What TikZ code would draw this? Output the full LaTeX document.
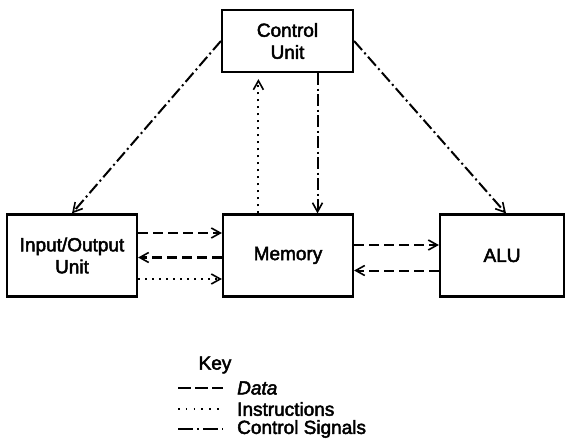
\documentclass[tikz,border=0pt]{standalone}
\usepackage{fontspec}
\setmainfont{Liberation Sans}
\newfontfamily\heavyfont[FakeBold=2.5]{Liberation Sans}
\usetikzlibrary{arrows.meta}
\begin{document}
\begin{tikzpicture}[x=1pt,y=-1pt,
  box/.style={draw, line width=2.2pt, inner sep=0pt, align=center, font=\heavyfont\fontsize{19}{22}\selectfont},
  conn/.style={line width=2pt, -{Straight Barb[length=9pt,width=10pt,line width=1.6pt]}},
  datal/.style={dash pattern=on 10pt off 5pt},
  instl/.style={dash pattern=on 2pt off 5pt},
  ctrll/.style={dash pattern=on 12pt off 3.5pt on 2pt off 3.5pt},
  keytext/.style={font=\heavyfont\fontsize{19}{22}\selectfont, anchor=west, inner sep=0pt},
  keyline/.style={line width=2pt}
]
\useasboundingbox (0,0) rectangle (565,441);
\node[box, minimum width=131pt, minimum height=62pt] (ctrl) at (287.5,41) {Control\\Unit};
\node[box, minimum width=130pt, minimum height=82pt] (io) at (72,255.5) {Input/Output\\Unit};
\node[box, minimum width=130pt, minimum height=82pt] (mem) at (288,255.5) {Memory};
\node[box, minimum width=124pt, minimum height=82pt] (alu) at (502,255.5) {ALU};

% control signals
\draw[conn,ctrll] (ctrl.west) -- (io.north);
\draw[conn,ctrll] (ctrl.east) -- ([xshift=4pt]alu.north);
\coordinate (cm) at ([xshift=-36.6pt]ctrl.south east);
\draw[conn,ctrll] (cm) -- (cm |- mem.north);
% instructions to control
\coordinate (mi) at ([xshift=36.5pt]mem.north west);
\draw[conn,instl,shorten >=6pt] (mi) -- (mi |- ctrl.south);

% IO <-> memory
\coordinate (io1) at ([yshift=22.5pt]io.east);
\coordinate (io2) at ([yshift=-2pt]io.east);
\coordinate (io3) at ([yshift=-23.5pt]io.east);
\draw[conn,datal] (io1) -- (io1 -| mem.west);
\draw[conn,datal,line width=2.6pt] (io2 -| mem.west) -- (io2);
\draw[conn,instl] (io3) -- (io3 -| mem.west);

% memory <-> ALU
\coordinate (ma1) at ([yshift=10.5pt]mem.east);
\coordinate (ma2) at ([yshift=-15pt]mem.east);
\draw[conn,datal] (ma1) -- (ma1 -| alu.west);
\draw[conn,datal] (ma2 -| alu.west) -- (ma2);

% key
\node[font=\heavyfont\fontsize{19}{22}\selectfont, inner sep=0pt] (key) at (215,365) {Key};
\coordinate (k1a) at (178,388); \coordinate (k1b) at (223,388);
\coordinate (k2a) at (178,409); \coordinate (k2b) at (223,409);
\coordinate (k3a) at (178,429); \coordinate (k3b) at (223,429);
\draw[keyline,dash pattern=on 13pt off 4pt] (k1a) -- (k1b);
\draw[keyline,line width=1.6pt,dash pattern=on 1.6pt off 6.2pt] (k2a) -- (k2b);
\draw[keyline,dash pattern=on 15pt off 4pt on 2pt off 4pt] (k3a) -- (k3b);
\node[keytext] (kd) at (237,388) {\itshape Data};
\node[keytext] (ki) at (237,409) {Instructions};
\node[keytext] (kc) at (237,429) {Control Signals};
\end{tikzpicture}
\end{document}
